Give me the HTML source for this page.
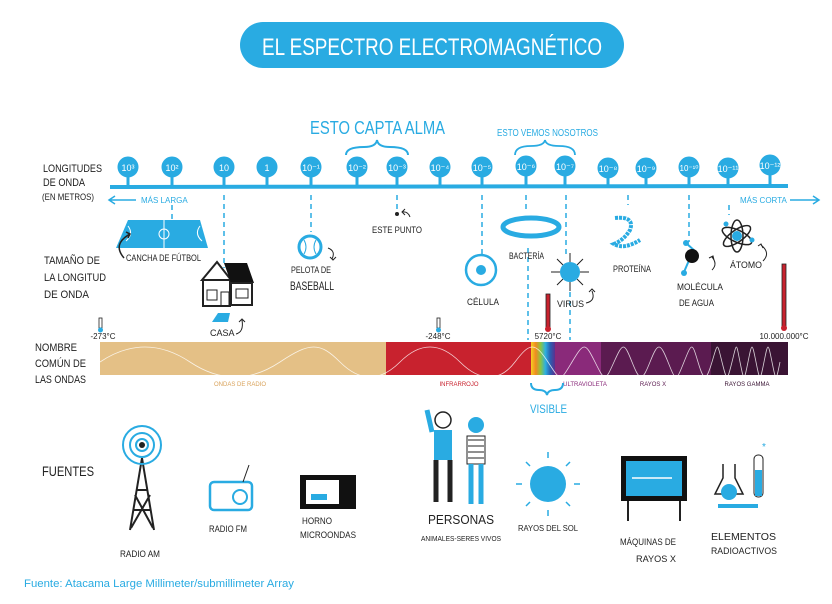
<!DOCTYPE html>
<html><head><meta charset="utf-8"><style>
body{margin:0;background:#fff;width:832px;height:599px;overflow:hidden}
svg text{font-family:"Liberation Sans",sans-serif}
</style></head><body>
<svg width="832" height="599" viewBox="0 0 832 599" xmlns="http://www.w3.org/2000/svg">
<defs>
<linearGradient id="rb" x1="0" x2="1"><stop offset="0" stop-color="#f5d020"/><stop offset=".2" stop-color="#f08a20"/><stop offset=".4" stop-color="#8bc540"/><stop offset=".6" stop-color="#2db0e0"/><stop offset=".8" stop-color="#2c5fb0"/><stop offset="1" stop-color="#5a3090"/></linearGradient>
</defs>
<!-- title -->
<rect x="240" y="22" width="384" height="46" rx="23" fill="#29abe2"/>
<text x="262" y="55" font-size="24" fill="#fff" textLength="340" lengthAdjust="spacingAndGlyphs">EL ESPECTRO ELECTROMAGNÉTICO</text>
<!-- captions -->
<text x="310" y="134" font-size="18" fill="#29abe2" textLength="135" lengthAdjust="spacingAndGlyphs">ESTO CAPTA ALMA</text>
<path d="M346 155 q0 -8 18 -8 q12 0 13 -7 q1 7 13 7 q18 0 18 8" fill="none" stroke="#29abe2" stroke-width="2"/>
<text x="497" y="136" font-size="10" fill="#29abe2" textLength="101" lengthAdjust="spacingAndGlyphs">ESTO VEMOS NOSOTROS</text>
<path d="M515 155 q0 -9 16 -9 q13 0 14 -6 q1 6 14 6 q16 0 16 9" fill="none" stroke="#29abe2" stroke-width="1.8"/>
<!-- left labels -->
<g font-size="11" fill="#222" lengthAdjust="spacingAndGlyphs">
<text x="43" y="172" textLength="59" lengthAdjust="spacingAndGlyphs">LONGITUDES</text><text x="43" y="186" textLength="42" lengthAdjust="spacingAndGlyphs">DE ONDA</text>
<text x="42" y="200" font-size="9" textLength="52" lengthAdjust="spacingAndGlyphs">(EN METROS)</text>
<text x="44" y="264" textLength="56" lengthAdjust="spacingAndGlyphs">TAMAÑO DE</text><text x="44" y="281" textLength="62" lengthAdjust="spacingAndGlyphs">LA LONGITUD</text><text x="44" y="298" textLength="45" lengthAdjust="spacingAndGlyphs">DE ONDA</text>
<text x="35" y="351" textLength="42" lengthAdjust="spacingAndGlyphs">NOMBRE</text><text x="35" y="367" textLength="51" lengthAdjust="spacingAndGlyphs">COMÚN DE</text><text x="35" y="383" textLength="51" lengthAdjust="spacingAndGlyphs">LAS ONDAS</text>
<text x="42" y="476" font-size="14" textLength="52" lengthAdjust="spacingAndGlyphs">FUENTES</text>
</g>
<!-- axis -->
<line x1="110" y1="187" x2="788" y2="186" stroke="#29abe2" stroke-width="4"/>
<g fill="#29abe2" stroke="#29abe2">
<g stroke-width="3">
<line x1="128" y1="172" x2="128" y2="186"/><line x1="172" y1="172" x2="172" y2="186"/><line x1="224" y1="172" x2="224" y2="186"/><line x1="267" y1="172" x2="267" y2="186"/><line x1="311" y1="172" x2="311" y2="186"/><line x1="357" y1="172" x2="357" y2="186"/><line x1="397" y1="172" x2="397" y2="186"/><line x1="440" y1="172" x2="440" y2="186"/><line x1="482" y1="172" x2="482" y2="186"/><line x1="526" y1="172" x2="526" y2="186"/><line x1="565" y1="172" x2="565" y2="186"/><line x1="608" y1="172" x2="608" y2="186"/><line x1="646" y1="172" x2="646" y2="186"/><line x1="689" y1="172" x2="689" y2="186"/><line x1="728" y1="172" x2="728" y2="186"/><line x1="770" y1="172" x2="770" y2="186"/>
</g>
<circle cx="128" cy="167" r="10"/><circle cx="172" cy="167" r="10"/><circle cx="224" cy="167" r="10"/><circle cx="267" cy="167" r="10"/><circle cx="311" cy="167" r="10"/><circle cx="357" cy="167" r="10"/><circle cx="397" cy="167" r="10"/><circle cx="440" cy="167" r="10"/><circle cx="482" cy="167" r="10"/><circle cx="526" cy="166" r="10"/><circle cx="565" cy="166" r="10"/><circle cx="608" cy="168" r="10"/><circle cx="646" cy="168" r="10"/><circle cx="689" cy="167" r="10"/><circle cx="728" cy="168" r="10"/><circle cx="770" cy="165" r="10"/>
</g>
<g font-size="9" fill="#fff" text-anchor="middle">
<text x="128" y="171">10³</text><text x="172" y="171">10²</text><text x="224" y="171">10</text><text x="267" y="171">1</text><text x="311" y="171">10⁻¹</text><text x="357" y="171">10⁻²</text><text x="397" y="171">10⁻³</text><text x="440" y="171">10⁻⁴</text><text x="482" y="171">10⁻⁵</text><text x="526" y="170">10⁻⁶</text><text x="565" y="170">10⁻⁷</text><text x="608" y="172">10⁻⁸</text><text x="646" y="172">10⁻⁹</text><text x="689" y="171" font-size="8">10⁻¹⁰</text><text x="728" y="172">10⁻¹¹</text><text x="770" y="169">10⁻¹²</text>
</g>
<g font-size="8" fill="#29abe2">
<text x="141" y="203">MÁS LARGA</text>
<text x="740" y="203">MÁS CORTA</text>
</g>
<g stroke="#29abe2" stroke-width="1.5" fill="none">
<path d="M136 200 H110 M115 196 L109 200 L115 204"/>
<path d="M790 200 H818 M813 196 L819 200 L813 204"/>
</g>
<!-- dashed connectors -->
<g stroke="#29abe2" stroke-width="1.5" stroke-dasharray="5,4">
<line x1="172" y1="205" x2="172" y2="222"/><line x1="224" y1="195" x2="224" y2="268"/><line x1="311" y1="195" x2="311" y2="232"/><line x1="397" y1="195" x2="397" y2="210"/><line x1="482" y1="195" x2="482" y2="254"/><line x1="526" y1="195" x2="526" y2="210"/><line x1="566" y1="195" x2="566" y2="258"/><line x1="628" y1="195" x2="628" y2="205"/><line x1="689" y1="195" x2="689" y2="242"/><line x1="729" y1="205" x2="729" y2="215"/>
<line x1="528" y1="248" x2="528" y2="340"/><line x1="570" y1="292" x2="570" y2="340"/>
</g>
<!-- soccer field -->
<path d="M128 220 L200 220 L208 248 L116 248 Z" fill="#29abe2"/>
<line x1="164" y1="220" x2="164" y2="248" stroke="#fff" stroke-width="1"/>
<circle cx="164" cy="234" r="5" fill="none" stroke="#fff"/>
<path d="M128 226 q6 8 -2 15 M200 226 q-6 8 2 15" stroke="#fff" fill="none"/>
<text x="126" y="261" font-size="9" fill="#222" textLength="75" lengthAdjust="spacingAndGlyphs">CANCHA DE FÚTBOL</text>
<path d="M124 258 q-12 -14 6 -24 M126 232 l4 2 -2 4" stroke="#222" fill="none" stroke-width="1.5"/>
<!-- house -->
<path d="M202 280 L217 262 L231 280 Z" fill="#fff" stroke="#222" stroke-width="2"/>
<rect x="203" y="280" width="27" height="26" fill="#fff" stroke="#222" stroke-width="2"/>
<path d="M224 263 L247 263 L254 283 L231 283 Z" fill="#111"/>
<rect x="231" y="283" width="21" height="22" fill="#fff" stroke="#222" stroke-width="2"/>
<rect x="207" y="290" width="10" height="10" fill="none" stroke="#222"/><rect x="221" y="292" width="8" height="14" fill="none" stroke="#222"/><rect x="236" y="289" width="12" height="9" fill="none" stroke="#222"/>
<path d="M218 313 L230 313 L228 322 L212 322 Z" fill="#29abe2"/>
<text x="210" y="336" font-size="9" fill="#222">CASA</text>
<path d="M236 334 q8 -2 6 -14 M239 322 l3 -3 3 3" stroke="#222" fill="none"/>
<!-- ball -->
<circle cx="310" cy="247" r="11" fill="#fff" stroke="#29abe2" stroke-width="3"/>
<path d="M304 240 q4 7 0 14 M316 240 q-4 7 0 14" stroke="#29abe2" fill="none"/>
<text x="291" y="273" font-size="9" fill="#222" textLength="40" lengthAdjust="spacingAndGlyphs">PELOTA DE</text><text x="290" y="290" font-size="12" fill="#222" textLength="44" lengthAdjust="spacingAndGlyphs">BASEBALL</text>
<path d="M328 248 q8 3 4 11 M330 257 l3 3 3 -3" stroke="#222" fill="none"/>
<circle cx="397" cy="214" r="2" fill="#222"/>
<text x="372" y="233" font-size="9" fill="#222" textLength="50" lengthAdjust="spacingAndGlyphs">ESTE PUNTO</text>
<path d="M410 217 q-2 -6 -8 -5 M405 209 l-3 3 3 3" stroke="#222" fill="none"/>
<!-- cell -->
<circle cx="481" cy="270" r="15" fill="#fff" stroke="#29abe2" stroke-width="2.5"/>
<circle cx="481" cy="270" r="5" fill="#29abe2"/>
<text x="467" y="305" font-size="9" fill="#222" textLength="32" lengthAdjust="spacingAndGlyphs">CÉLULA</text>
<!-- bacteria -->
<ellipse cx="531" cy="227" rx="28" ry="9" fill="none" stroke="#29abe2" stroke-width="5"/>
<text x="509" y="259" font-size="9" fill="#222" textLength="35" lengthAdjust="spacingAndGlyphs">BACTERÍA</text>
<!-- virus -->
<g stroke="#222" stroke-width="1"><path d="M570 262 v-9 M570 282 v9 M560 272 h-9 M580 272 h9 M563 265 l-6 -6 M577 279 l6 6 M577 265 l6 -6 M563 279 l-6 6"/></g>
<circle cx="570" cy="272" r="10" fill="#29abe2"/>
<text x="557" y="307" font-size="9" fill="#222" textLength="27" lengthAdjust="spacingAndGlyphs">VIRUS</text>
<path d="M586 303 q10 -2 6 -12 M589 292 l3 -3 3 3" stroke="#222" fill="none"/>
<!-- protein -->
<path d="M615 218 q20 -2 15 12 q-6 10 -16 14 q10 6 26 -4" stroke="#29abe2" stroke-width="4" fill="none" stroke-dasharray="3,1"/>
<text x="613" y="272" font-size="9" fill="#222" textLength="38" lengthAdjust="spacingAndGlyphs">PROTEÍNA</text>
<!-- water -->
<line x1="686" y1="243" x2="696" y2="252" stroke="#29abe2" stroke-width="2"/><line x1="690" y1="258" x2="684" y2="272" stroke="#29abe2" stroke-width="2"/>
<circle cx="692" cy="256" r="7" fill="#111"/><circle cx="686" cy="243" r="3" fill="#29abe2"/><circle cx="684" cy="273" r="3" fill="#29abe2"/>
<text x="677" y="290" font-size="9" fill="#222" textLength="46" lengthAdjust="spacingAndGlyphs">MOLÉCULA</text><text x="679" y="306" font-size="9" fill="#222" textLength="35" lengthAdjust="spacingAndGlyphs">DE AGUA</text>
<path d="M712 270 q6 -6 0 -13 M709 258 l4 -2 1 4" stroke="#222" fill="none"/>
<!-- atom -->
<g fill="none" stroke="#222" stroke-width="1.5"><ellipse cx="737" cy="236" rx="16" ry="6" transform="rotate(25 737 236)"/><ellipse cx="737" cy="236" rx="16" ry="6" transform="rotate(-35 737 236)"/><ellipse cx="737" cy="236" rx="6" ry="16"/></g>
<circle cx="737" cy="236" r="5" fill="#29abe2"/><circle cx="726" cy="224" r="2.5" fill="#29abe2"/><circle cx="752" cy="240" r="2.5" fill="#29abe2"/>
<text x="730" y="268" font-size="9" fill="#222" textLength="32" lengthAdjust="spacingAndGlyphs">ÁTOMO</text>
<path d="M763 261 q8 -8 -2 -16 M758 246 l3 -2 2 4" stroke="#222" fill="none"/>
<!-- thermometers -->
<g>
<rect x="99" y="318" width="3" height="10" fill="#fff" stroke="#222" stroke-width=".8"/><circle cx="100.5" cy="330" r="2.5" fill="#29abe2"/>
<rect x="437" y="318" width="3" height="10" fill="#fff" stroke="#222" stroke-width=".8"/><circle cx="438.5" cy="330" r="2.5" fill="#29abe2"/>
<rect x="546" y="294" width="4" height="33" fill="#c8222e" stroke="#222" stroke-width=".8"/><circle cx="548" cy="329" r="3" fill="#c8222e"/>
<rect x="782" y="264" width="4" height="62" fill="#c8222e" stroke="#222" stroke-width=".8"/><circle cx="784" cy="328" r="3" fill="#c8222e"/>
</g>
<g font-size="8" fill="#222" text-anchor="middle"><text x="103" y="339">-273°C</text><text x="438" y="339">-248°C</text><text x="548" y="339">5720°C</text><text x="784" y="339">10.000.000°C</text></g>
<!-- spectrum bar -->
<rect x="100" y="342" width="286" height="33" fill="#e4c086"/>
<rect x="386" y="342" width="146" height="33" fill="#c8222e"/>
<rect x="531" y="342" width="24" height="33" fill="url(#rb)"/>
<rect x="555" y="342" width="46" height="33" fill="#8a2a7a"/>
<rect x="601" y="342" width="110" height="33" fill="#5b1b50"/>
<rect x="711" y="342" width="77" height="33" fill="#3a1434"/>
<path d="M100 362 C130 342,160 342,190 362 S250 382,280 362 S320 342,340 362 S380 382,400 362 S440 342,460 362 S500 382,515 362 S535 342,548 362 S560 382,572 362 S585 342,595 362 S605 382,614 362 S624 342,632 362 S642 382,650 362 S660 342,668 362 S676 382,684 362 S692 342,698 362 S706 382,712 362 S717 342,722 362 S727 382,732 362 S736 342,740 362 S744 382,748 362 S752 342,756 362 S760 382,764 362 S768 342,772 362 S776 382,780 362" fill="none" stroke="#fff" stroke-width="0.8" opacity=".8"/>
<g font-size="6" text-anchor="middle"><text x="240" y="386" fill="#d9a25a">ONDAS DE RADIO</text><text x="459" y="386" fill="#c8222e">INFRARROJO</text><text x="585" y="386" fill="#8a2a7a">ULTRAVIOLETA</text><text x="653" y="386" fill="#5b1b50">RAYOS X</text><text x="747" y="386" fill="#3a1434">RAYOS GAMMA</text></g>
<path d="M531 383 q0 7 8 7 q7 0 8 5 q1 -5 8 -5 q8 0 8 -7" stroke="#29abe2" fill="none" stroke-width="2"/>
<text x="530" y="413" font-size="12" fill="#29abe2" textLength="37" lengthAdjust="spacingAndGlyphs">VISIBLE</text>
<!-- sources -->
<g stroke="#222" stroke-width="2" fill="none"><path d="M130 530 L142 458 L154 530 M134 510 L150 510 M137 490 L147 490 M131 528 L150 495 M153 528 L135 495"/></g>
<g fill="none" stroke="#29abe2" stroke-width="2"><circle cx="142" cy="445" r="6"/><circle cx="142" cy="445" r="12"/><circle cx="142" cy="445" r="19"/></g>
<circle cx="142" cy="445" r="3" fill="#222"/>
<text x="120" y="557" font-size="9" fill="#222" textLength="40" lengthAdjust="spacingAndGlyphs">RADIO AM</text>
<rect x="210" y="482" width="42" height="28" rx="4" fill="#fff" stroke="#29abe2" stroke-width="2.5"/>
<circle cx="240" cy="497" r="7" fill="none" stroke="#29abe2" stroke-width="2"/>
<line x1="243" y1="482" x2="249" y2="465" stroke="#222"/>
<text x="209" y="532" font-size="9" fill="#222" textLength="38" lengthAdjust="spacingAndGlyphs">RADIO FM</text>
<rect x="300" y="475" width="56" height="34" fill="#111"/><rect x="306" y="480" width="33" height="24" fill="#fff"/>
<path d="M311 494 h16 v6 h-16 z" fill="#29abe2"/>
<text x="302" y="524" font-size="9" fill="#222" textLength="30" lengthAdjust="spacingAndGlyphs">HORNO</text><text x="300" y="538" font-size="9" fill="#222" textLength="56" lengthAdjust="spacingAndGlyphs">MICROONDAS</text>
<g>
<circle cx="443" cy="420" r="8" fill="#fff" stroke="#222" stroke-width="1.5"/>
<path d="M434 430 h18 v30 h-18 z" fill="#29abe2"/>
<path d="M436 460 v42 M450 460 v42" stroke="#222" stroke-width="5"/>
<path d="M432 432 l-5 -22" stroke="#29abe2" stroke-width="5"/>
<circle cx="476" cy="425" r="8" fill="#29abe2"/>
<path d="M467 436 h18 v28 h-18 z" fill="#fff" stroke="#222"/>
<path d="M468 440 h16 M468 446 h16 M468 452 h16 M468 458 h16" stroke="#222"/>
<path d="M471 464 v40 M481 464 v40" stroke="#29abe2" stroke-width="5"/>
</g>
<text x="428" y="524" font-size="13" fill="#222" textLength="66" lengthAdjust="spacingAndGlyphs">PERSONAS</text>
<text x="421" y="541" font-size="7" fill="#222" textLength="80" lengthAdjust="spacingAndGlyphs">ANIMALES-SERES VIVOS</text>
<circle cx="548" cy="484" r="18" fill="#29abe2"/>
<g stroke="#29abe2" stroke-width="1.5"><path d="M548 458 v-6 M548 510 v6 M522 484 h-6 M574 484 h6 M530 466 l-4 -4 M566 502 l4 4 M566 466 l4 -4 M530 502 l-4 4"/></g>
<text x="518" y="531" font-size="8" fill="#222" textLength="60" lengthAdjust="spacingAndGlyphs">RAYOS DEL SOL</text>
<rect x="621" y="456" width="66" height="45" fill="#111"/><rect x="626" y="461" width="56" height="35" fill="#29abe2"/>
<path d="M632 478 h40" stroke="#fff" stroke-width="1.5"/>
<path d="M628 501 v20 M680 501 v20" stroke="#222" stroke-width="2"/>
<text x="620" y="545" font-size="9" fill="#222" textLength="56" lengthAdjust="spacingAndGlyphs">MÁQUINAS DE</text><text x="636" y="562" font-size="9" fill="#222" textLength="40" lengthAdjust="spacingAndGlyphs">RAYOS X</text>
<path d="M723 464 v14 l-8 16 h28 l-8 -16 v-14" fill="#fff" stroke="#222" stroke-width="1.5"/>
<circle cx="729" cy="492" r="8" fill="#29abe2"/>
<rect x="754" y="455" width="9" height="42" rx="4" fill="#fff" stroke="#222"/><rect x="755" y="470" width="7" height="26" fill="#29abe2"/>
<text x="762" y="450" font-size="10" fill="#29abe2">*</text>
<path d="M718 506 h40" stroke="#29abe2" stroke-width="4"/>
<text x="711" y="540" font-size="10" fill="#222" textLength="65" lengthAdjust="spacingAndGlyphs">ELEMENTOS</text><text x="711" y="554" font-size="9" fill="#222" textLength="66" lengthAdjust="spacingAndGlyphs">RADIOACTIVOS</text>
<text x="24" y="587" font-size="11" fill="#29abe2" textLength="270" lengthAdjust="spacingAndGlyphs">Fuente: Atacama Large Millimeter/submillimeter Array</text>
</svg>
</body></html>
